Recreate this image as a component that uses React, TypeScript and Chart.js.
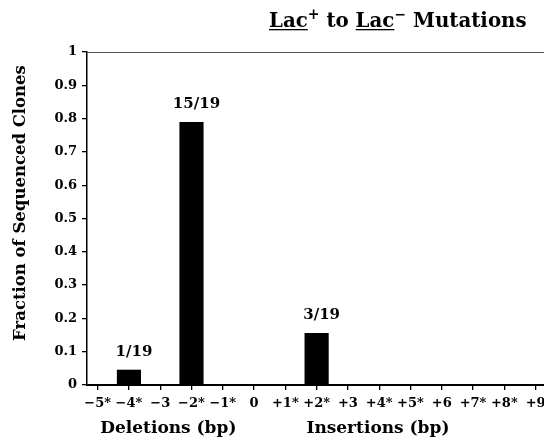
import React, { useEffect, useRef } from "react";
import { Chart, registerables } from "chart.js";

Chart.register(...registerables);

// ---- data ----
const X_VALUES = [-5, -4, -3, -2, -1, 0, 1, 2, 3, 4, 5, 6, 7, 8, 9];
const X_LABELS = ["−5*", "−4*", "−3", "−2*", "−1*", "0", "+1*", "+2*", "+3", "+4*", "+5*", "+6", "+7*", "+8*", "+9"];
const FRACTIONS = [0, 0.045, 0, 0.789, 0, 0, 0, 0.155, 0, 0, 0, 0, 0, 0, 0];
const BAR_LABELS = ["", "1/19", "", "15/19", "", "", "", "3/19", "", "", "", "", "", "", ""];
const Y_TICKS = [0, 0.1, 0.2, 0.3, 0.4, 0.5, 0.6, 0.7, 0.8, 0.9, 1];
const Y_TITLE = "Fraction of Sequenced Clones";
const X_TITLES = ["Deletions (bp)", "Insertions (bp)"];
const TITLE_PARTS = [
  { text: "Lac", underline: true, sup: false },
  { text: "+", underline: false, sup: true },
  { text: " to ", underline: false, sup: false },
  { text: "Lac", underline: true, sup: false },
  { text: "−", underline: false, sup: true },
  { text: " Mutations", underline: false, sup: false },
];

const FAMILY = '"DejaVu Serif", "Liberation Serif", serif';

const decorPlugin = {
  id: "decor",
  afterDraw(chart: any) {
    const ctx = chart.ctx as CanvasRenderingContext2D;
    const area = chart.chartArea;
    ctx.save();
    // top frame line
    ctx.strokeStyle = "#555";
    ctx.lineWidth = 1;
    ctx.beginPath();
    ctx.moveTo(area.left, area.top + 0.5);
    ctx.lineTo(area.right, area.top + 0.5);
    ctx.stroke();

    ctx.fillStyle = "#000";
    // bar labels
    const meta = chart.getDatasetMeta(0);
    ctx.font = `bold 15px ${FAMILY}`;
    ctx.textAlign = "center";
    ctx.textBaseline = "alphabetic";
    meta.data.forEach((el: any, i: number) => {
      const t = BAR_LABELS[i];
      if (!t) return;
      ctx.fillText(t, el.x + 5, el.y - 14);
    });

    // x axis titles
    const xs = chart.scales.x;
    ctx.font = `bold 17px ${FAMILY}`;
    ctx.fillText(X_TITLES[0], xs.getPixelForValue(-2.74), 433);
    ctx.fillText(X_TITLES[1], xs.getPixelForValue(3.96), 433);

    // y axis title
    ctx.save();
    ctx.translate(25, 203);
    ctx.rotate(-Math.PI / 2);
    ctx.font = `bold 16.5px ${FAMILY}`;
    ctx.textAlign = "center";
    ctx.fillText(Y_TITLE, 0, 0);
    ctx.restore();

    // main title
    let x = 269;
    const base = 27;
    ctx.textAlign = "left";
    TITLE_PARTS.forEach((p) => {
      ctx.font = p.sup ? `bold 14px ${FAMILY}` : `bold 19.8px ${FAMILY}`;
      const w = ctx.measureText(p.text).width;
      const y = p.sup ? base - 8 : base;
      ctx.fillText(p.text, x, y);
      if (p.underline) {
        ctx.fillRect(x, base + 2, w, 1.3);
      }
      x += w;
    });
    ctx.restore();
  },
};

export default function App() {
  const ref = useRef<HTMLCanvasElement>(null);
  useEffect(() => {
    const canvas = ref.current!;
    const chart = new Chart(canvas, {
      type: "bar",
      data: {
        datasets: [
          {
            data: X_VALUES.map((v, i) => ({ x: v, y: FRACTIONS[i] })),
            backgroundColor: "#000",
            borderWidth: 0,
            barThickness: 23.5,
          },
        ],
      },
      options: {
        responsive: false,
        animation: false,
        devicePixelRatio: 1,
        layout: { padding: { top: 52, right: 20, left: 0, bottom: 0 } },
        plugins: { legend: { display: false }, tooltip: { enabled: false }, title: { display: false } },
        scales: {
          x: {
            type: "linear",
            min: -5.34,
            max: 9.78,
            offset: false,
            afterBuildTicks: (s: any) => {
              s.ticks = X_VALUES.map((v) => ({ value: v }));
            },
            afterFit: (s: any) => {
              s.height = 55;
            },
            ticks: {
              autoSkip: false,
              maxRotation: 0,
              minRotation: 0,
              padding: 6,
              color: "#000",
              font: { family: FAMILY, size: 13, weight: "bold" },
              callback: (_v: any, i: number) => X_LABELS[i],
            },
            grid: { offset: false, drawOnChartArea: false, drawTicks: true, tickLength: 5, color: "#000", lineWidth: 1.3 },
            border: { display: true, color: "#000", width: 2 },
          },
          y: {
            type: "linear",
            min: 0,
            max: 1,
            afterBuildTicks: (s: any) => {
              s.ticks = Y_TICKS.map((v) => ({ value: v }));
            },
            afterFit: (s: any) => {
              s.width = 87;
            },
            ticks: {
              padding: 5,
              color: "#000",
              font: { family: FAMILY, size: 13, weight: "bold" },
              callback: (v: any) => String(Number(Number(v).toFixed(1))),
            },
            grid: { drawOnChartArea: false, drawTicks: true, tickLength: 5, color: "#000", lineWidth: 1.3 },
            border: { display: true, color: "#000", width: 1.5 },
          },
        },
      },
      plugins: [decorPlugin],
    } as any);
    return () => chart.destroy();
  }, []);
  return (
    <div
      style={{
        position: "fixed",
        left: 0,
        top: 0,
        width: 544,
        height: 440,
        overflow: "hidden",
        background: "#fff",
      }}
    >
      <canvas ref={ref} width={580} height={440} style={{ display: "block", width: 580, height: 440 }} />
    </div>
  );
}
